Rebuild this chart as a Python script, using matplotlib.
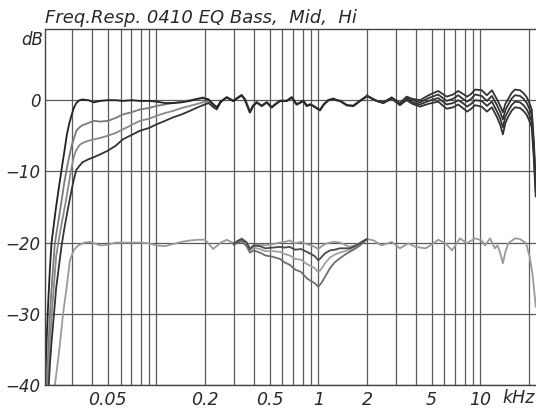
import matplotlib
matplotlib.use("Agg")
import matplotlib.pyplot as plt

# --- data (kHz, dB) ---
# bass EQ set, low end (black = flat, then three cut settings)
bass_f = [0.0205, 0.021, 0.0215, 0.022, 0.0225, 0.023, 0.0235, 0.024, 0.025, 0.026,
          0.027, 0.028, 0.029, 0.030, 0.031, 0.032, 0.0335, 0.035, 0.038, 0.041,
          0.045, 0.05, 0.056, 0.062, 0.07, 0.079, 0.09, 0.1, 0.113, 0.127,
          0.143, 0.161, 0.18, 0.194, 0.21, 0.225, 0.236, 0.25]
bass_a = [-40, -33.5, -28, -23.5, -20, -18.3, -16.6, -15, -12.2, -9.6,
          -7.2, -4.8, -3.2, -2.0, -1.0, -0.4, 0.0, 0.1, 0.0, -0.3,
          -0.1, 0.0, 0.0, -0.1, 0.0, -0.1, -0.1, -0.2, -0.4, -0.4,
          -0.3, -0.1, 0.2, 0.3, 0.1, -0.6, -1.0, -0.2]
bass_b = [-44, -40, -35, -30, -26.5, -23.5, -20.5, -19, -16.5, -14,
          -11.5, -9.5, -7.8, -6.3, -5.3, -4.3, -3.8, -3.5, -3.2, -2.9,
          -3.0, -2.9, -2.5, -2.0, -1.7, -1.3, -1.1, -0.8, -0.6, -0.4,
          -0.2, 0.0, 0.2, 0.4, 0.1, -0.6, -1.0, -0.2]
bass_c = [-46, -42.5, -38, -34, -30.5, -27.5, -24.8, -22, -19.5, -17.3,
          -15.3, -13.3, -11.2, -9.3, -7.8, -7.0, -6.3, -6.0, -5.7, -5.5,
          -5.3, -5.0, -4.6, -4.1, -3.5, -2.9, -2.6, -2.2, -1.8, -1.5,
          -1.1, -0.8, -0.5, -0.3, -0.2, -0.8, -1.1, -0.2]
bass_d = [-48, -45, -41, -37, -34, -31.5, -29, -26.5, -23.3, -20.3,
          -18, -16, -14.2, -12.5, -11, -9.8, -9.2, -8.7, -8.3, -8.0,
          -7.6, -7.1, -6.4, -5.5, -4.9, -4.3, -3.9, -3.4, -2.9, -2.4,
          -2.0, -1.5, -1.0, -0.7, -0.4, -1.0, -1.3, -0.2]

# common response through the mids
flat_f = [0.25, 0.272, 0.298, 0.336, 0.352, 0.378, 0.395, 0.416, 0.447, 0.48,
          0.515, 0.548, 0.58, 0.638, 0.685, 0.735, 0.808, 0.848, 0.89, 0.931,
          0.975, 1.024, 1.08, 1.153, 1.237, 1.3, 1.361, 1.43, 1.497, 1.645,
          1.808, 1.92, 2.0]
flat_db = [-0.2, 0.4, -0.1, 0.7, 0.1, -1.7, -0.8, -0.3, -0.8, -0.3,
           -1.0, -0.5, -0.1, -0.1, 0.4, -0.6, -0.1, -0.8, -0.6, -0.8,
           -1.1, -1.4, -0.6, 0.0, 0.2, 0.0, -0.1, -0.4, -0.7, -0.8,
           -0.1, 0.3, 0.6]

# treble EQ set
hi_f = [2.0, 2.29, 2.52, 2.84, 3.19, 3.51, 3.8, 4.25, 4.8, 5.5,
        6.2, 6.8, 7.3, 7.8, 8.3, 8.8, 9.3, 10.2, 11.0, 11.8,
        12.7, 13.3, 13.8, 14.3, 14.9, 15.6, 16.4, 17.6, 18.5, 19.4,
        20.2, 20.8, 21.4, 22.0]
hi_1 = [0.6, -0.1, -0.3, 0.4, -0.4, 0.5, 0.2, 0.0, 0.7, 1.3,
        0.5, 0.8, 1.3, 0.9, 0.5, 0.9, 1.5, 1.4, 0.7, 1.4,
        0.1, -0.8, -1.7, -0.5, 0.2, 1.0, 1.5, 1.4, 1.0, 0.4,
        -0.5, -1.3, -5.5, -11.0]
hi_2 = [0.6, -0.1, -0.3, 0.3, -0.5, 0.3, 0.0, -0.3, 0.3, 0.8,
        -0.1, 0.2, 0.7, 0.2, -0.2, 0.2, 0.8, 0.6, -0.1, 0.6,
        -0.7, -1.7, -2.7, -1.4, -0.6, 0.2, 0.7, 0.6, 0.2, -0.4,
        -1.3, -2.1, -6.3, -11.8]
hi_3 = [0.6, -0.1, -0.4, 0.3, -0.6, 0.2, -0.3, -0.6, -0.1, 0.3,
        -0.6, -0.4, 0.0, -0.4, -0.9, -0.5, 0.0, -0.1, -0.8, -0.2,
        -1.6, -2.6, -3.8, -2.3, -1.5, -0.7, -0.2, -0.3, -0.7, -1.3,
        -2.2, -3.0, -7.2, -12.7]
hi_4 = [0.6, -0.1, -0.4, 0.2, -0.7, 0.0, -0.5, -0.9, -0.5, -0.2,
        -1.2, -1.0, -0.6, -1.1, -1.6, -1.2, -0.7, -0.9, -1.6, -1.0,
        -2.4, -3.5, -4.8, -3.2, -2.3, -1.5, -1.0, -1.1, -1.5, -2.1,
        -3.0, -3.8, -8.0, -13.5]

# mid EQ set, shown 20 dB lower
mid_f = [0.0236, 0.025, 0.0265, 0.028, 0.0292, 0.031, 0.0329, 0.036, 0.039, 0.045,
         0.05, 0.056, 0.062, 0.07, 0.079, 0.09, 0.1, 0.113, 0.127, 0.143,
         0.161, 0.18, 0.2, 0.224, 0.25, 0.272, 0.3, 0.336, 0.36, 0.378,
         0.4, 0.435, 0.47, 0.525, 0.58, 0.62, 0.665, 0.72, 0.78, 0.848,
         0.9, 0.95, 1.0, 1.05, 1.1, 1.18, 1.26, 1.36, 1.46, 1.56,
         1.68, 1.81, 1.92, 2.0, 2.2, 2.45, 2.84, 3.19, 3.6, 3.97,
         4.6, 5.0, 5.51, 6.1, 6.7, 7.5, 8.26, 9.29, 10.2, 10.7,
         11.5, 12.3, 12.8, 13.3, 13.8, 14.3, 14.9, 16.4, 17.6, 19.2,
         20.2, 21.0, 21.6, 22.0]
mid_0 = [-40, -35.5, -30, -26, -22.5, -21.0, -20.4, -20.0, -19.9, -20.4,
         -20.3, -20.0, -20.0, -20.0, -20.0, -20.1, -20.4, -20.5, -20.2, -19.9,
         -19.7, -19.6, -19.6, -20.9, -20.0, -19.6, -20.1, -19.4, -19.9, -20.8,
         -20.3, -20.3, -20.4, -20.2, -20.0, -19.9, -19.7, -20.1, -19.9, -20.2,
         -20.4, -20.6, -20.9, -20.5, -20.2, -20.0, -19.9, -20.0, -20.3, -20.6,
         -20.4, -20.0, -19.7, -19.5, -19.7, -20.4, -19.9, -20.8, -20.1, -20.6,
         -20.8, -20.3, -19.6, -20.1, -21.1, -19.4, -20.1, -19.4, -19.7, -20.4,
         -19.4, -20.8, -20.4, -21.5, -22.9, -21.3, -20.1, -19.4, -19.5, -20.1,
         -22.0, -24.3, -27.0, -29.0]

dip_f = [0.3, 0.336, 0.36, 0.378, 0.4, 0.435, 0.47, 0.525, 0.58, 0.62,
         0.665, 0.72, 0.78, 0.848, 0.9, 0.95, 1.0, 1.05, 1.1, 1.18,
         1.26, 1.36, 1.46, 1.56, 1.68, 1.81, 1.92, 2.0]
dip_1 = [-20.1, -19.5, -20.0, -20.9, -20.4, -20.5, -20.8, -20.7, -20.6, -20.7,
         -20.6, -21.0, -20.9, -21.3, -21.6, -21.9, -22.5, -22.0, -21.5, -21.1,
         -21.0, -20.8, -20.8, -20.8, -20.5, -20.1, -19.7, -19.5]
dip_2 = [-20.2, -19.6, -20.2, -21.1, -20.7, -20.9, -21.2, -21.2, -21.3, -21.6,
         -21.8, -22.3, -22.4, -23.0, -23.3, -23.6, -24.2, -23.6, -22.9, -22.1,
         -21.7, -21.4, -21.2, -21.0, -20.7, -20.3, -19.8, -19.5]
dip_3 = [-20.3, -19.8, -20.5, -21.4, -21.1, -21.4, -21.8, -22.0, -22.3, -22.8,
         -23.1, -23.8, -24.1, -25.0, -25.4, -25.7, -26.2, -25.6, -24.8, -23.6,
         -22.8, -22.2, -21.7, -21.3, -20.9, -20.4, -19.9, -19.5]

grid_f = [0.03, 0.04, 0.05, 0.06, 0.07, 0.08, 0.09, 0.1, 0.2, 0.3, 0.4, 0.5, 0.6,
          0.7, 0.8, 0.9, 1, 2, 3, 4, 5, 6, 7, 8, 9, 10, 20]
x_labels = {0.05: "0.05", 0.2: "0.2", 0.5: "0.5", 1: "1", 2: "2", 5: "5", 10: "10"}
y_ticks = [-40, -30, -20, -10, 0]

# --- figure ---
W, H = 536, 409
fig = plt.figure(figsize=(W / 100, H / 100), dpi=100)
ax = fig.add_axes([45 / W, 1 - 385 / H, 1 - 45 / W, (385 - 29) / H])
ax.set_xscale("log")
ax.set_xlim(0.0205, 22.1)
ax.set_ylim(-40, 10)

tfont = dict(family="DejaVu Sans", style="italic", size=12.5, color="#2a2a2a")
yfont = dict(tfont, size=12)

ax.set_xticks(grid_f)
ax.set_xticks([], minor=True)
ax.set_xticklabels([x_labels.get(f, "") for f in grid_f], **tfont)
ax.set_yticks(y_ticks)
ax.set_yticklabels(["\u2212%d" % -v if v < 0 else "0" for v in y_ticks], **yfont)
ax.tick_params(axis="both", length=0)
ax.tick_params(axis="x", pad=4)
ax.tick_params(axis="y", pad=3)
ax.grid(True, color="#5a5a5a", lw=0.9)
ax.set_axisbelow(True)

for s in ["left", "top", "bottom"]:
    ax.spines[s].set_color("#444444")
    ax.spines[s].set_linewidth(1.0)
ax.spines["right"].set_visible(False)

lw = 1.3
# mid set (lower group)
ax.plot(mid_f, mid_0, color="#9a9a9a", lw=lw)
ax.plot(dip_f, dip_2, color="#a0a0a0", lw=lw)
ax.plot(dip_f, dip_3, color="#6e6e6e", lw=lw)
ax.plot(dip_f, dip_1, color="#4a4a4a", lw=lw)

# bass set
ax.plot(bass_f, bass_b, color="#7a7a7a", lw=lw)
ax.plot(bass_f, bass_c, color="#8a8a8a", lw=lw)
ax.plot(bass_f, bass_d, color="#333333", lw=lw)
ax.plot(bass_f, bass_a, color="#222222", lw=lw)
ax.plot(flat_f, flat_db, color="#2a2a2a", lw=lw + 0.4)

# treble set
for h in (hi_4, hi_3, hi_1, hi_2):
    ax.plot(hi_f, h, color="#333333", lw=lw)

fig.text(45 / W, 1 - 18 / H, "Freq.Resp. 0410 EQ Bass,  Mid,  Hi", ha="left", va="center", **dict(tfont, size=13))
fig.text(43 / W, 1 - 40 / H, "dB", ha="right", va="center", **yfont)
fig.text(535 / W, 1 - 398 / H, "kHz", ha="right", va="center", **tfont)

fig.savefig("out.png", dpi=100)
